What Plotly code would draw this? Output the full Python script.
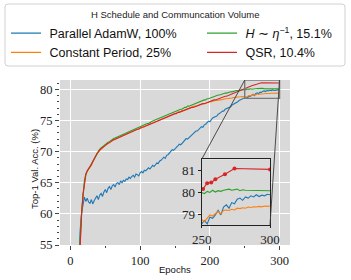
import plotly.graph_objects as go

# ---------------- data ----------------
epochs_blue = list(range(10, 301, 2))
acc_blue = [
    47.0, 53.5, 57.5, 60.2, 61.8, 62.7, 62.0, 62.5, 61.9, 61.7,
    62.3, 61.6, 62.1, 62.6, 62.9, 62.3, 63.0, 63.3, 62.8, 63.5,
    63.9, 63.4, 64.1, 64.4, 63.9, 64.5, 64.7, 64.3, 64.9, 65.0,
    64.7, 65.3, 65.0, 65.4, 65.2, 65.6, 65.5, 65.9, 65.7, 66.0,
    66.2, 65.9, 66.4, 66.3, 66.1, 66.6, 66.8, 66.6, 67.0, 66.9,
    67.2, 67.4, 67.2, 67.6, 67.8, 67.6, 68.0, 68.2, 68.1, 68.5,
    68.6, 68.8, 69.1, 68.9, 69.4, 69.5, 69.8, 70.0, 70.3, 70.2,
    70.4, 70.7, 70.9, 71.2, 71.1, 71.3, 71.6, 71.8, 72.1, 72.0,
    72.2, 72.5, 72.6, 72.9, 73.0, 73.3, 73.3, 73.6, 73.8, 74.0,
    73.9, 74.3, 74.4, 74.6, 74.9, 74.8, 75.1, 75.4, 75.5, 75.6,
    75.7, 76.0, 76.1, 76.3, 76.5, 76.5, 76.8, 76.9, 77.1, 77.1,
    77.2, 77.5, 77.6, 77.7, 77.9, 78.0, 78.2, 78.3, 78.4, 78.5,
    78.6, 78.75, 78.6, 78.9, 78.85, 79.0, 79.2, 79.0, 79.35, 79.45,
    79.3, 79.55, 79.5, 79.7, 79.75, 79.65, 79.8, 79.75, 79.85, 79.8,
    79.9, 79.82, 79.88, 79.85, 79.92, 79.9,
]

epochs_orange = list(range(10, 301, 2))
acc_orange = [
    45.2, 51.2, 56.0, 60.1, 63.0, 65.0, 66.2, 66.8, 67.1, 67.4,
    67.8, 68.3, 68.8, 69.2, 69.6, 69.9, 70.2, 70.5, 70.6, 70.8,
    71.0, 71.1, 71.3, 71.4, 71.6, 71.7, 71.9, 72.0, 72.1, 72.3,
    72.4, 72.5, 72.6, 72.7, 72.8, 72.9, 73.0, 73.1, 73.1, 73.3,
    73.3, 73.4, 73.5, 73.6, 73.7, 73.8, 73.8, 74.0, 74.0, 74.2,
    74.2, 74.3, 74.4, 74.5, 74.6, 74.7, 74.8, 74.9, 75.0, 75.1,
    75.2, 75.3, 75.3, 75.5, 75.6, 75.6, 75.8, 75.8, 76.0, 76.0,
    76.1, 76.2, 76.3, 76.4, 76.4, 76.6, 76.6, 76.7, 76.8, 76.9,
    77.0, 77.0, 77.1, 77.2, 77.3, 77.3, 77.4, 77.5, 77.5, 77.6,
    77.7, 77.7, 77.8, 77.9, 77.9, 78.0, 78.0, 78.1, 78.1, 78.2,
    78.2, 78.3, 78.3, 78.3, 78.4, 78.4, 78.5, 78.5, 78.5, 78.6,
    78.6, 78.6, 78.7, 78.7, 78.7, 78.8, 78.8, 78.8, 78.85, 78.85,
    78.8, 78.7, 78.85, 79.0, 78.95, 79.05, 79.15, 79.05, 79.2, 79.22,
    79.2, 79.25, 79.22, 79.3, 79.28, 79.32, 79.3, 79.35, 79.33, 79.36,
    79.35, 79.38, 79.36, 79.4, 79.38, 79.4,
]

epochs_green = list(range(10, 283, 2)) + [300]
acc_green = [
    45.5, 51.5, 56.3, 60.2, 63.3, 65.3, 66.4, 67.0, 67.3, 67.6,
    68.0, 68.5, 69.0, 69.4, 69.8, 70.1, 70.4, 70.6, 70.8, 71.0,
    71.1, 71.3, 71.5, 71.6, 71.8, 71.9, 72.1, 72.2, 72.3, 72.5,
    72.6, 72.7, 72.8, 72.9, 73.0, 73.1, 73.2, 73.3, 73.4, 73.5,
    73.5, 73.6, 73.8, 73.8, 73.9, 74.0, 74.1, 74.2, 74.3, 74.4,
    74.5, 74.5, 74.7, 74.8, 74.9, 75.0, 75.0, 75.2, 75.3, 75.4,
    75.5, 75.5, 75.7, 75.8, 75.8, 76.0, 76.1, 76.1, 76.3, 76.3,
    76.4, 76.5, 76.6, 76.7, 76.8, 76.8, 77.0, 77.1, 77.1, 77.3,
    77.3, 77.4, 77.5, 77.6, 77.7, 77.8, 77.8, 78.0, 78.0, 78.1,
    78.2, 78.3, 78.3, 78.5, 78.5, 78.6, 78.7, 78.8, 78.8, 78.9,
    79.0, 79.1, 79.1, 79.2, 79.3, 79.3, 79.4, 79.4, 79.5, 79.5,
    79.6, 79.6, 79.7, 79.7, 79.8, 79.8, 79.85, 79.9, 79.9, 79.95,
    80.0, 79.95, 80.05, 80.0, 80.1, 80.02, 80.08, 80.05, 80.1, 80.12,
    80.15, 80.1, 80.12, 80.15, 80.08, 80.12, 80.1,
    80.08,
]

epochs_red = list(range(10, 249, 2)) + [251, 254, 257, 260, 267, 274, 300]
acc_red = [
    45.0, 51.0, 56.0, 60.0, 63.2, 65.2, 66.3, 66.9, 67.2, 67.5,
    67.9, 68.4, 68.9, 69.3, 69.7, 70.0, 70.3, 70.5, 70.6, 70.9,
    71.0, 71.2, 71.3, 71.5, 71.6, 71.8, 71.9, 72.0, 72.2, 72.3,
    72.4, 72.5, 72.6, 72.7, 72.8, 72.9, 73.0, 73.0, 73.2, 73.2,
    73.3, 73.4, 73.5, 73.6, 73.6, 73.8, 73.9, 73.9, 74.0, 74.1,
    74.2, 74.3, 74.3, 74.5, 74.6, 74.7, 74.7, 74.9, 75.0, 75.1,
    75.2, 75.2, 75.4, 75.5, 75.5, 75.7, 75.8, 75.8, 75.9, 76.0,
    76.1, 76.1, 76.3, 76.3, 76.4, 76.5, 76.6, 76.6, 76.8, 76.8,
    76.9, 77.0, 77.1, 77.1, 77.2, 77.3, 77.4, 77.4, 77.5, 77.6,
    77.7, 77.7, 77.8, 77.9, 78.0, 78.0, 78.1, 78.2, 78.3, 78.3,
    78.4, 78.5, 78.6, 78.6, 78.7, 78.8, 78.9, 78.9, 79.0, 79.1,
    79.2, 79.3, 79.3, 79.4, 79.5, 79.6, 79.7, 79.8, 79.9, 80.0,
    80.16, 80.41, 80.44, 80.59, 80.81, 81.07, 81.03,
]

names = ["Parallel AdamW, 100%", "Constant Period, 25%",
         "<i>H</i> ∼ <i>η</i><sup>−1</sup>, 15.1%", "QSR, 10.4%"]
colors = ["#1f77b4", "#ff7f0e", "#2ca02c", "#d62728"]
legend_title = "H Schedule and Communcation Volume"

x_ticks = [0, 100, 200, 300]
y_ticks = [55, 60, 65, 70, 75, 80]
inset_x_ticks = [250, 300]
inset_y_ticks = [79, 80, 81]

# ---------------- geometry ----------------
W, H = 351, 280
ML, MR, MT, MB = 60, 61, 80, 35
PW, PH = W - ML - MR, H - MT - MB
XR = [-15, 315]
YR = [55, 81.5]
IXR = [250, 300]
IYR = [78.55, 81.48]


def pxx(px):
    return (px - ML) / PW


def pxy(py):
    return (H - MB - py) / PH


def dx(v):
    return (v - XR[0]) / (XR[1] - XR[0])


def dy(v):
    return (v - YR[0]) / (YR[1] - YR[0])


inset_dom_x = [pxx(201.7), pxx(270)]
inset_dom_y = [pxy(225), pxy(159.3)]

series = [
    (epochs_blue, acc_blue),
    (epochs_orange, acc_orange),
    (epochs_green, acc_green),
    (epochs_red, acc_red),
]
legend_ids = ["legend", "legend", "legend2", "legend2"]
ranks = [1, 2, 1, 2]

fig = go.Figure()
NBSP = "\u00a0"
for i, (ex, ac) in enumerate(series):
    fig.add_trace(go.Scatter(
        x=ex, y=ac, mode="lines", name=NBSP + names[i],
        line=dict(color=colors[i], width=1.1),
        legend=legend_ids[i], legendrank=ranks[i],
        xaxis="x", yaxis="y", hoverinfo="skip",
    ))
for i, (ex, ac) in enumerate(series):
    fig.add_trace(go.Scatter(
        x=ex, y=ac, mode="lines+markers" if i == 3 else "lines",
        marker=dict(size=4, color=colors[i]),
        line=dict(color=colors[i], width=1.1),
        showlegend=False, xaxis="x2", yaxis="y2", hoverinfo="skip",
    ))

serif = "Liberation Serif"
sans = "Liberation Sans"

fig.update_layout(
    width=W, height=H,
    margin=dict(l=ML, r=MR, t=MT, b=MB, autoexpand=False),
    paper_bgcolor="white",
    plot_bgcolor="#d9d9d9",
    showlegend=True,
    xaxis=dict(
        domain=[0, 1], range=XR, tickvals=x_ticks, ticks="outside", ticklen=4,
        tickcolor="#444", tickwidth=1, showgrid=True, gridcolor="white", gridwidth=1.3,
        zeroline=False, showline=False,
        tickfont=dict(family=serif, size=12.5, color="#222"),
        minor=dict(tickvals=[50, 150, 250], ticks="outside", ticklen=2,
                   tickcolor="#444", showgrid=False),
    ),
    yaxis=dict(
        domain=[0, 1], range=YR, tickvals=y_ticks, ticks="outside", ticklen=4,
        tickcolor="#444", tickwidth=1, showgrid=True, gridcolor="white", gridwidth=1.3,
        zeroline=False, showline=False,
        tickfont=dict(family=serif, size=12.5, color="#222"),
        minor=dict(dtick=1, ticks="outside", ticklen=2, tickcolor="#444", showgrid=False),
    ),
    xaxis2=dict(
        domain=inset_dom_x, anchor="y2", range=IXR, tickvals=inset_x_ticks,
        ticks="outside", ticklen=2, tickcolor="#222", showgrid=False, zeroline=False,
        showline=True, mirror=True, linecolor="#222", linewidth=1,
        tickfont=dict(family=serif, size=13, color="#222"),
    ),
    yaxis2=dict(
        domain=inset_dom_y, anchor="x2", range=IYR, tickvals=inset_y_ticks,
        ticks="outside", ticklen=3, tickcolor="#222", showgrid=False, zeroline=False,
        showline=True, mirror=True, linecolor="#222", linewidth=1,
        tickfont=dict(family=serif, size=13, color="#222"),
    ),
    legend=dict(
        xref="container", yref="container", x=6 / W, y=1 - 18.5 / H,
        xanchor="left", yanchor="top", bgcolor="rgba(0,0,0,0)", borderwidth=0,
        itemwidth=30, font=dict(family=sans, size=12.5, color="#111"),
        orientation="v", tracegroupgap=0,
    ),
    legend2=dict(
        xref="container", yref="container", x=202 / W, y=1 - 18.5 / H,
        xanchor="left", yanchor="top", bgcolor="rgba(0,0,0,0)", borderwidth=0,
        itemwidth=30, font=dict(family=sans, size=12.5, color="#111"),
        orientation="v", tracegroupgap=0,
    ),
)

# legend box (rounded) in paper coordinates
r = 3
x0p, x1p, y0p, y1p = 5, 345, 4, 66
rx, ry = r / PW, r / PH
X0, X1 = pxx(x0p), pxx(x1p)
YT, YB = pxy(y0p), pxy(y1p)
path = (f"M{X0 + rx},{YT} L{X1 - rx},{YT} Q{X1},{YT} {X1},{YT - ry} "
        f"L{X1},{YB + ry} Q{X1},{YB} {X1 - rx},{YB} L{X0 + rx},{YB} "
        f"Q{X0},{YB} {X0},{YB + ry} L{X0},{YT - ry} Q{X0},{YT} {X0 + rx},{YT} Z")

shapes = [
    dict(type="path", xref="paper", yref="paper", path=path,
         fillcolor="rgba(255,255,255,0.9)", line=dict(color="#d0d0d0", width=1), layer="below"),
    dict(type="rect", xref="x2 domain", yref="y2 domain", x0=0, x1=1, y0=0, y1=1,
         fillcolor="white", line=dict(width=0), layer="below"),
    dict(type="rect", xref="x", yref="y", x0=IXR[0], x1=IXR[1], y0=IYR[0], y1=IYR[1],
         line=dict(color="#7a7a7a", width=1.4), fillcolor="rgba(0,0,0,0)", layer="above"),
    dict(type="line", xref="paper", yref="paper", x0=dx(IXR[0]), y0=dy(IYR[1]),
         x1=inset_dom_x[0], y1=inset_dom_y[1], line=dict(color="#3a3a3a", width=0.9)),
    dict(type="line", xref="paper", yref="paper", x0=dx(IXR[1]), y0=dy(IYR[1]),
         x1=inset_dom_x[1], y1=inset_dom_y[0], line=dict(color="#3a3a3a", width=0.9)),
]
fig.update_layout(shapes=shapes)

annotations = [
    dict(text=legend_title, xref="paper", yref="paper", x=pxx(175), y=pxy(15),
         showarrow=False, xanchor="center", yanchor="middle",
         font=dict(family=sans, size=9.5, color="#222")),
    dict(text="Top-1 Val. Acc. (%)", xref="paper", yref="paper", x=pxx(34), y=pxy(169),
         showarrow=False, textangle=-90, xanchor="center", yanchor="middle",
         font=dict(family=sans, size=9.5, color="#111")),
    dict(text="Epochs", xref="paper", yref="paper", x=pxx(175), y=pxy(269),
         showarrow=False, xanchor="center", yanchor="middle",
         font=dict(family=sans, size=9.5, color="#111")),
]
fig.update_layout(annotations=annotations)

fig.write_html(
    "out.html",
    config={"displayModeBar": False},
    post_script="document.body.style.margin='0';document.body.style.overflow='hidden';",
)
